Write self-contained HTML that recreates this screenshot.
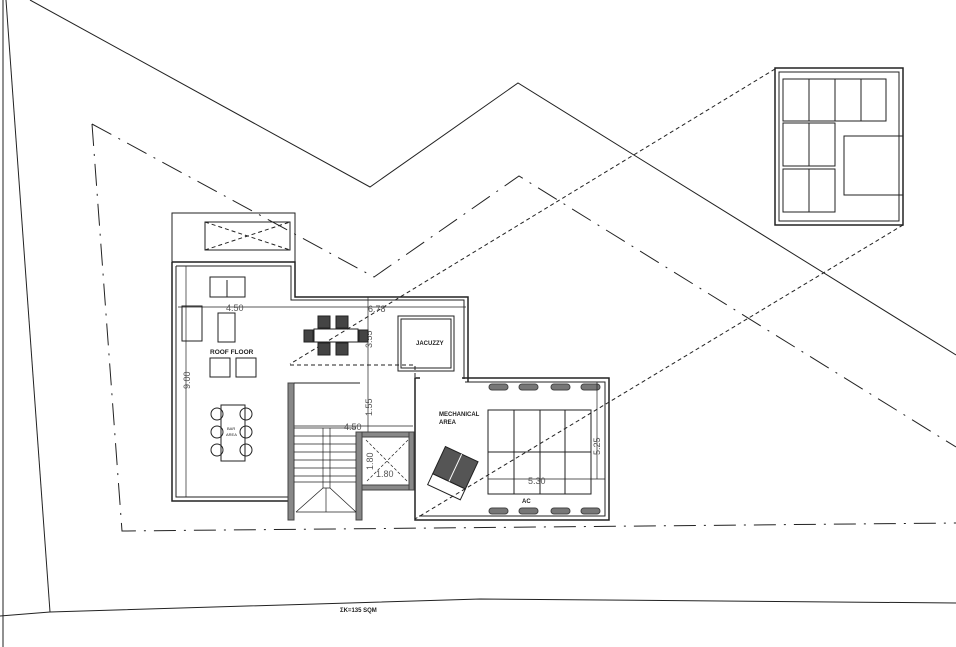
<!DOCTYPE html>
<html><head><style>body{margin:0;background:#fff}svg{display:block}text{font-family:"Liberation Sans",sans-serif}</style></head><body>
<svg width="956" height="647" viewBox="0 0 956 647" xmlns="http://www.w3.org/2000/svg" fill="none" stroke="#222" stroke-width="1">
<!-- site lines -->
<line x1="3" y1="0" x2="3" y2="647"/>
<line x1="6" y1="0" x2="50" y2="612"/>
<polyline points="0,616 50,612 480,599 956,603"/>
<polyline points="30,0 370,187 518,83 956,355"/>
<polyline points="92,124 374,277 519,176 956,447" stroke-dasharray="22,8,2,8"/>
<polyline points="92,124 122,531 956,523" stroke-dasharray="22,8,2,8"/>
<line x1="775" y1="69" x2="290" y2="364" stroke-dasharray="4,3"/>
<line x1="903" y1="225" x2="415" y2="519" stroke-dasharray="4,3"/>
<!-- solar box -->
<rect x="775" y="68" width="128" height="157" stroke-width="1.5"/>
<rect x="779" y="72" width="120" height="149"/>
<rect x="783" y="79" width="103" height="42"/>
<line x1="809" y1="79" x2="809" y2="121"/><line x1="835" y1="79" x2="835" y2="121"/><line x1="861" y1="79" x2="861" y2="121"/>
<rect x="783" y="123" width="52" height="43"/><line x1="809" y1="123" x2="809" y2="166"/>
<rect x="783" y="169" width="52" height="43"/><line x1="809" y1="169" x2="809" y2="212"/>
<rect x="844" y="136" width="59" height="59"/>
<!-- top box -->
<rect x="172" y="213" width="123" height="49"/>
<rect x="205" y="222" width="85" height="28"/>
<line x1="205" y1="222" x2="290" y2="250" stroke-dasharray="4,3"/><line x1="205" y1="250" x2="290" y2="222" stroke-dasharray="4,3"/>
<!-- main building walls -->
<polyline points="172,262 295,262 295,297 468,297 468,382" stroke-width="1.5"/>
<polyline points="176,266 291,266 291,300 464,300 464,379"/>
<polyline points="172,262 172,501 290,501" stroke-width="1.5"/>
<polyline points="176,266 176,497 290,497"/>
<!-- jacuzzi -->
<rect x="398" y="316" width="56" height="55"/><rect x="401" y="319" width="50" height="49"/>
<text x="416" y="345" font-size="6" font-weight="bold" fill="#222" stroke="none">JACUZZY</text>
<!-- dashed area -->
<polyline points="290,365 415,365 415,520" stroke-dasharray="4,3"/>
<!-- mech area -->
<polyline points="462,378 609,378 609,520 415,520 415,378 420,378" stroke-width="1.5"/>
<polyline points="465,382 605,382 605,516 419,516"/>
<g fill="#777" stroke="#444">
<rect x="489" y="384" width="19" height="6" rx="3"/><rect x="519" y="384" width="19" height="6" rx="3"/><rect x="551" y="384" width="19" height="6" rx="3"/><rect x="581" y="384" width="19" height="6" rx="3"/>
<rect x="489" y="508" width="19" height="6" rx="3"/><rect x="519" y="508" width="19" height="6" rx="3"/><rect x="551" y="508" width="19" height="6" rx="3"/><rect x="581" y="508" width="19" height="6" rx="3"/>
</g>
<rect x="488" y="410" width="103" height="84"/>
<line x1="514" y1="410" x2="514" y2="494"/><line x1="540" y1="410" x2="540" y2="494"/><line x1="565" y1="410" x2="565" y2="494"/>
<line x1="488" y1="452" x2="591" y2="452"/>
<line x1="488" y1="479" x2="605" y2="479" stroke-width="0.7"/>
<text x="528" y="484" font-size="9" fill="#555" stroke="none">5.30</text>
<line x1="597" y1="382" x2="597" y2="479" stroke-width="0.7"/>
<text x="600" y="455" font-size="9" fill="#555" stroke="none" transform="rotate(-90 600 455)">5.25</text>
<text x="522" y="503" font-size="6" font-weight="bold" fill="#222" stroke="none">AC</text>
<text x="439" y="416" font-size="6" font-weight="bold" fill="#222" stroke="none">MECHANICAL</text>
<text x="439" y="424" font-size="6" font-weight="bold" fill="#222" stroke="none">AREA</text>
<g transform="rotate(25 452 475)"><rect x="434" y="452" width="36" height="30" fill="#555"/><rect x="434" y="482" width="36" height="12"/><line x1="452" y1="452" x2="452" y2="482" stroke="#fff"/></g>
<!-- left furniture -->
<rect x="210" y="277" width="35" height="20"/><line x1="227" y1="280" x2="227" y2="297"/>
<rect x="182" y="306" width="20" height="35"/>
<rect x="218" y="313" width="17" height="29"/>
<rect x="210" y="358" width="20" height="19"/><rect x="236" y="358" width="20" height="19"/>
<text x="210" y="354" font-size="6.5" font-weight="bold" fill="#222" stroke="none">ROOF FLOOR</text>
<rect x="221" y="405" width="24" height="56"/>
<circle cx="217" cy="414" r="6"/><circle cx="217" cy="432" r="6"/><circle cx="217" cy="450" r="6"/>
<circle cx="246" cy="414" r="6"/><circle cx="246" cy="432" r="6"/><circle cx="246" cy="450" r="6"/>
<text x="227" y="430" font-size="4" fill="#222" stroke="none">BAR</text><text x="226" y="436" font-size="4" fill="#222" stroke="none">AREA</text>
<!-- dims -->
<line x1="178" y1="307" x2="466" y2="307" stroke-width="0.7"/>
<text x="226" y="311" font-size="9" fill="#555" stroke="none">4.50</text>
<text x="368" y="312" font-size="9" fill="#555" stroke="none">6.78</text>
<line x1="186" y1="266" x2="186" y2="497" stroke-width="0.7"/>
<text x="190" y="389" font-size="9" fill="#555" stroke="none" transform="rotate(-90 190 389)">9.00</text>
<line x1="368" y1="297" x2="368" y2="432" stroke-width="0.7"/>
<text x="372" y="348" font-size="9" fill="#555" stroke="none" transform="rotate(-90 372 348)">3.55</text>
<text x="372" y="416" font-size="9" fill="#555" stroke="none" transform="rotate(-90 372 416)">1.55</text>
<line x1="294" y1="426" x2="413" y2="426" stroke-width="0.7"/>
<text x="344" y="430" font-size="9" fill="#555" stroke="none">4.50</text>
<!-- dining -->
<rect x="314" y="329" width="44" height="13"/>
<g fill="#444"><rect x="318" y="316" width="12" height="12"/><rect x="336" y="316" width="12" height="12"/><rect x="318" y="343" width="12" height="12"/><rect x="336" y="343" width="12" height="12"/><rect x="304" y="330" width="9" height="12"/><rect x="359" y="330" width="9" height="12"/></g>
<!-- stair -->
<g fill="#888" stroke="#444"><rect x="288" y="383" width="6" height="137"/><rect x="356" y="432" width="6" height="88"/><rect x="362" y="432" width="51" height="5"/><rect x="362" y="485" width="51" height="5"/><rect x="409" y="432" width="5" height="58"/></g>
<line x1="294" y1="383" x2="360" y2="383"/>
<g stroke-width="0.7">
<line x1="294" y1="428" x2="356" y2="428"/><line x1="294" y1="436" x2="356" y2="436"/><line x1="294" y1="444" x2="356" y2="444"/><line x1="294" y1="452" x2="356" y2="452"/><line x1="294" y1="460" x2="356" y2="460"/><line x1="294" y1="468" x2="356" y2="468"/><line x1="294" y1="476" x2="356" y2="476"/><line x1="294" y1="482" x2="356" y2="482"/>
<line x1="323" y1="428" x2="323" y2="488"/><line x1="330" y1="428" x2="330" y2="488"/>
<polyline points="296,512 323,488 330,488 356,512"/><line x1="296" y1="512" x2="356" y2="512"/><line x1="326" y1="488" x2="326" y2="512"/>
<line x1="366" y1="440" x2="408" y2="482" stroke-dasharray="3,2"/><line x1="408" y1="440" x2="366" y2="482" stroke-dasharray="3,2"/>
</g>
<text x="376" y="477" font-size="9" fill="#555" stroke="none">1.80</text>
<text x="373" y="470" font-size="9" fill="#555" stroke="none" transform="rotate(-90 373 470)">1.80</text>
<text x="340" y="612" font-size="6" font-weight="bold" fill="#222" stroke="none">ΣΚ=135 SQM</text>
</svg>
</body></html>
